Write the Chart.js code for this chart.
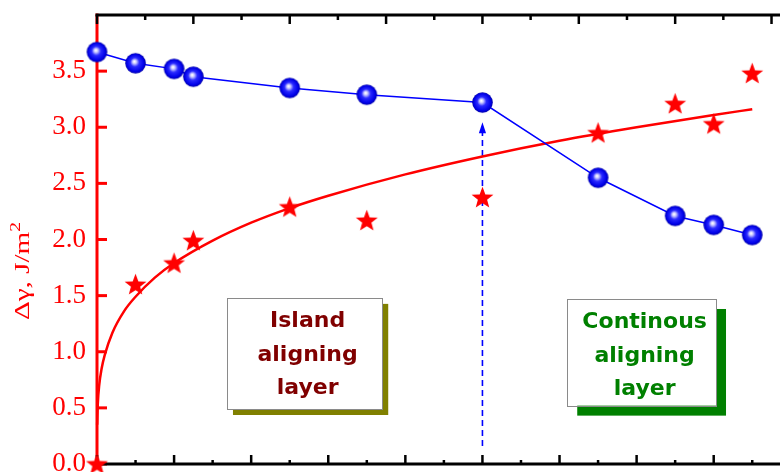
<!DOCTYPE html>
<html>
<head>
<meta charset="utf-8">
<script src="https://cdn.jsdelivr.net/npm/chart.js@4/dist/chart.umd.min.js"></script>
<style>
  html, body { margin: 0; padding: 0; background: #ffffff; }
  #wrap { width: 780px; height: 472px; }
</style>
</head>
<body>
<div id="wrap"><canvas id="chart" width="780" height="472"></canvas></div>
<script>
// Layer thickness positions shared by both measured series
const thickness = [0, 0.5, 1, 1.25, 2.5, 3.5, 5, 6.5, 7.5, 8, 8.5];
// Anchoring energy Δγ, J/m² (red stars)
const deltaGamma = [0, 1.60, 1.79, 1.99, 2.29, 2.17, 2.375, 2.95, 3.21, 3.03, 3.48];
// Second measured quantity (blue spheres)
const blueSeries = [3.67, 3.57, 3.52, 3.45, 3.35, 3.29, 3.22, 2.55, 2.21, 2.13, 2.04];
// Fitted growth curve for Δγ
const fitX = [0.002, 0.01, 0.03, 0.06, 0.1, 0.2, 0.35, 0.5, 0.75, 1, 1.5, 2, 2.5, 3, 4, 5, 6, 7, 8, 8.5];
const fitY = [0.35, 0.53, 0.71, 0.85, 0.97, 1.17, 1.36, 1.49, 1.66, 1.79, 1.99, 2.15, 2.28, 2.39, 2.58, 2.74, 2.88, 3.00, 3.11, 3.16];
// Labelled ticks of the Δγ axis
const yTickLabels = [0, 0.5, 1, 1.5, 2, 2.5, 3, 3.5];
// Transition marker (dashed arrow): x position and vertical extent
const transitionX = 5;
const arrowRange = [0.16, 3.045];
// Region captions
const islandLines = ['Island', 'aligning', 'layer'];
const continuousLines = ['Continous', 'aligning', 'layer'];
const islandBox = { x: [1.686, 3.70], y: [0.49, 1.48] };
const continuousBox = { x: [6.10, 8.03], y: [0.52, 1.47] };

const X_MAX = 8.86;
const TOP_RATIO = 0.8; // top axis units per bottom axis unit

function makeSphere(r) {
  const c = document.createElement('canvas');
  const s = Math.ceil(r * 2 + 2);
  c.width = c.height = s;
  const g = c.getContext('2d');
  const cx = s / 2, cy = s / 2;
  const grad = g.createRadialGradient(cx - 1.2, cy - 1.8, 0.4, cx, cy, r);
  grad.addColorStop(0, '#ffffff');
  grad.addColorStop(0.16, '#c4c4ff');
  grad.addColorStop(0.42, '#2a2aff');
  grad.addColorStop(0.82, '#0000e8');
  grad.addColorStop(1, '#0000a6');
  g.fillStyle = grad;
  g.beginPath();
  g.arc(cx, cy, r, 0, Math.PI * 2);
  g.fill();
  return c;
}

function makeStar(R) {
  const c = document.createElement('canvas');
  const s = Math.ceil(R * 2 + 2);
  c.width = c.height = s;
  const g = c.getContext('2d');
  const cx = s / 2, cy = s / 2 + 0.8;
  const inner = R * 0.42;
  g.fillStyle = '#ff0000';
  g.beginPath();
  for (let i = 0; i < 10; i++) {
    const a = -Math.PI / 2 + i * Math.PI / 5;
    const rad = i % 2 ? inner : R;
    const px = cx + rad * Math.cos(a), py = cy + rad * Math.sin(a);
    if (i === 0) g.moveTo(px, py); else g.lineTo(px, py);
  }
  g.closePath();
  g.fill();
  return c;
}

const sphere = makeSphere(10.3);
const star = makeStar(11.5);

function seg(ctx, x1, y1, x2, y2) {
  ctx.beginPath();
  ctx.moveTo(x1, y1);
  ctx.lineTo(x2, y2);
  ctx.stroke();
}

// Axes frame with inward ticks, plus the dashed transition arrow
const framePlugin = {
  id: 'frame',
  beforeDatasetsDraw(chart) {
    const { ctx, chartArea: a, scales } = chart;
    const x = scales.x, x2 = scales.x2, y = scales.y;
    ctx.save();
    ctx.lineCap = 'butt';

    // dashed arrow
    const ax = x.getPixelForValue(transitionX);
    const yBot = y.getPixelForValue(arrowRange[0]);
    const yTip = y.getPixelForValue(arrowRange[1]);
    ctx.strokeStyle = '#0000ff';
    ctx.lineWidth = 1.6;
    ctx.setLineDash([6, 4]);
    seg(ctx, ax, yBot, ax, yTip + 9);
    ctx.setLineDash([]);
    ctx.fillStyle = '#0000ff';
    ctx.beginPath();
    ctx.moveTo(ax, yTip);
    ctx.lineTo(ax - 3.6, yTip + 11);
    ctx.lineTo(ax + 3.6, yTip + 11);
    ctx.closePath();
    ctx.fill();

    // left axis (red)
    ctx.strokeStyle = '#ff0000';
    ctx.lineWidth = 3;
    seg(ctx, a.left, a.top - 1.5, a.left, a.bottom + 1.5);
    y.ticks.forEach(t => {
      if (t.value >= 4) return;
      const py = y.getPixelForValue(t.value);
      const major = yTickLabels.includes(t.value);
      seg(ctx, a.left, py, a.left + (major ? 10 : 5), py);
    });

    // top and bottom axes (black)
    ctx.strokeStyle = '#000000';
    ctx.lineWidth = 3;
    seg(ctx, a.left - 1.5, a.bottom, a.right, a.bottom);
    seg(ctx, a.left - 1.5, a.top, a.right, a.top);
    ctx.lineWidth = 2.5;
    for (let i = 0; i * 0.5 <= X_MAX; i++) {
      const px = x.getPixelForValue(i * 0.5);
      seg(ctx, px, a.bottom, px, a.bottom - (i % 2 === 0 ? 9 : 4));
    }
    for (let i = 0; i * 0.5 <= X_MAX * TOP_RATIO; i++) {
      const px = x2.getPixelForValue(i * 0.5);
      seg(ctx, px, a.top, px, a.top + (i % 2 === 0 ? 9 : 5));
    }
    ctx.restore();
  },
  afterDraw(chart) {
    const { ctx, scales } = chart;
    const x = scales.x, y = scales.y;
    ctx.save();

    function captionBox(box, lines, color, shadow, offset) {
      const l = x.getPixelForValue(box.x[0]);
      const r = x.getPixelForValue(box.x[1]);
      const t = y.getPixelForValue(box.y[1]);
      const b = y.getPixelForValue(box.y[0]);
      ctx.fillStyle = shadow;
      ctx.fillRect(l + offset, t + offset, r - l, b - t);
      ctx.fillStyle = '#ffffff';
      ctx.fillRect(l, t, r - l, b - t);
      ctx.strokeStyle = '#8a8a8a';
      ctx.lineWidth = 1;
      ctx.strokeRect(Math.round(l) + 0.5, Math.round(t) + 0.5, Math.round(r - l), Math.round(b - t));
      ctx.fillStyle = color;
      ctx.font = 'bold 22px "DejaVu Sans"';
      ctx.textAlign = 'center';
      ctx.textBaseline = 'alphabetic';
      const cx = (l + r) / 2 + 3;
      const base = [29, 63, 96];
      lines.forEach((s, i) => ctx.fillText(s, cx, t + base[i]));
    }
    captionBox(islandBox, islandLines, '#800000', '#808000', 6);
    captionBox(continuousBox, continuousLines, '#008000', '#008000', 10);

    // Δγ axis title, rotated
    const main = 'Δγ, J/m';
    const sup = '2';
    ctx.fillStyle = '#ff0000';
    ctx.font = '21px "Liberation Serif"';
    const wMain = ctx.measureText(main).width;
    ctx.font = '14px "Liberation Serif"';
    const wSup = ctx.measureText(sup).width;
    const total = wMain + wSup;
    const sx = 98 / total;
    ctx.translate(29, 271);
    ctx.rotate(-Math.PI / 2);
    ctx.scale(sx, 1);
    ctx.textAlign = 'left';
    ctx.textBaseline = 'alphabetic';
    ctx.font = '21px "Liberation Serif"';
    ctx.fillText(main, -total / 2, 0);
    ctx.font = '14px "Liberation Serif"';
    ctx.fillText(sup, -total / 2 + wMain, -9);
    ctx.restore();
  }
};

const pts = (xs, ys) => xs.map((v, i) => ({ x: v, y: ys[i] }));

new Chart(document.getElementById('chart'), {
  type: 'scatter',
  data: {
    datasets: [
      {
        label: 'fit',
        data: pts(fitX, fitY),
        showLine: true,
        borderColor: '#ff0000',
        borderWidth: 2.5,
        pointRadius: 0,
        cubicInterpolationMode: 'monotone',
        clip: false,
        order: 3
      },
      {
        label: 'blue',
        data: pts(thickness, blueSeries),
        showLine: true,
        borderColor: '#0000ff',
        borderWidth: 1.5,
        pointStyle: sphere,
        pointRadius: 10,
        clip: false,
        order: 2
      },
      {
        label: 'Δγ',
        data: pts(thickness, deltaGamma),
        showLine: false,
        pointStyle: star,
        pointRadius: 11,
        clip: false,
        order: 1
      }
    ]
  },
  options: {
    responsive: false,
    animation: false,
    devicePixelRatio: 1,
    layout: { autoPadding: false, padding: { top: 15, bottom: 8, left: 0, right: 0 } },
    plugins: { legend: { display: false }, tooltip: { enabled: false } },
    scales: {
      x: { type: 'linear', min: 0, max: X_MAX, display: false },
      x2: { type: 'linear', axis: 'x', position: 'top', min: 0, max: X_MAX * TOP_RATIO, display: false },
      y: {
        type: 'linear',
        min: 0,
        max: 4,
        grid: { display: false, drawTicks: false },
        border: { display: false },
        ticks: {
          stepSize: 0.25,
          padding: 11,
          color: '#ff0000',
          font: { family: '"Liberation Serif"', size: 27 },
          callback: v => yTickLabels.includes(v) ? v.toFixed(1) : ''
        },
        afterFit(scale) {
          scale.width = 97;
          scale.paddingTop = 0;
          scale.paddingBottom = 0;
        }
      }
    }
  },
  plugins: [framePlugin]
});
</script>
</body>
</html>
